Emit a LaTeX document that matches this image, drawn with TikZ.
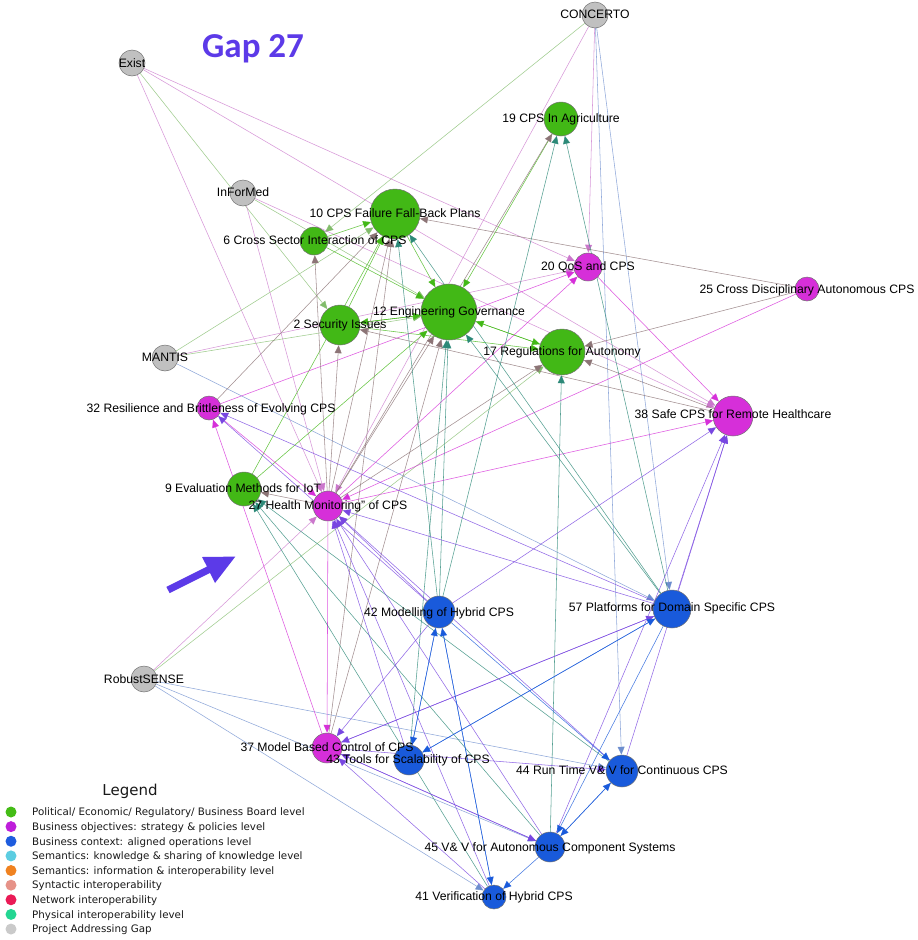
\documentclass[tikz,border=0pt]{standalone}
\usepackage{fontspec}
\setmainfont{Liberation Sans}
\newfontfamily\legfont{DejaVu Sans}
\newfontfamily\titlefont{Carlito}
\usetikzlibrary{arrows.meta}
\pgfdeclarelayer{bglayer}
\pgfdeclarelayer{edgelayer}
\pgfsetlayers{bglayer,edgelayer,main}

% node colours
\definecolor{cgreen}{RGB}{66,184,22}
\definecolor{cmag}{RGB}{214,47,217}
\definecolor{cblue}{RGB}{25,90,219}
\definecolor{cgray}{RGB}{192,192,192}
% edge colours (mix of end colours)
\definecolor{kG}{RGB}{66,184,22}
\definecolor{kM}{RGB}{214,47,217}
\definecolor{kB}{RGB}{25,90,219}
\definecolor{kBR}{RGB}{140,116,118}
\definecolor{kT}{RGB}{44,137,120}
\definecolor{kP}{RGB}{120,70,225}
\definecolor{klg}{RGB}{129,188,106}
\definecolor{klp}{RGB}{203,119,204}
\definecolor{klb}{RGB}{108,141,206}
% title / legend colours
\definecolor{titlec}{RGB}{92,58,232}
\definecolor{lg1}{RGB}{68,188,22}
\definecolor{lg2}{RGB}{190,30,218}
\definecolor{lg3}{RGB}{30,92,222}
\definecolor{lg4}{RGB}{92,205,225}
\definecolor{lg5}{RGB}{240,130,32}
\definecolor{lg6}{RGB}{230,146,136}
\definecolor{lg7}{RGB}{234,26,86}
\definecolor{lg8}{RGB}{36,214,146}
\definecolor{lg9}{RGB}{202,202,202}

\tikzset{
  vtx/.style={circle, draw=black!55, line width=0.5pt, inner sep=0pt, minimum size=#1},
  lbl/.style={anchor=base, inner sep=0pt, font=\fontsize{12.2}{14}\selectfont, text=black},
  edge/.style={line width=0.55pt, -{Triangle[length=8pt,width=7pt]}},
  eG/.style={edge, draw=kG, draw opacity=0.8},
  eM/.style={edge, draw=kM, draw opacity=0.8},
  eB/.style={edge, draw=kB, draw opacity=0.8},
  eBR/.style={edge, draw=kBR, draw opacity=0.8},
  eT/.style={edge, draw=kT, draw opacity=0.8},
  eP/.style={edge, draw=kP, draw opacity=0.8},
  elg/.style={edge, draw=klg, draw opacity=0.75},
  elp/.style={edge, draw=klp, draw opacity=0.75},
  elb/.style={edge, draw=klb, draw opacity=0.75},
  legdot/.style={circle, inner sep=0pt, minimum size=11pt},
  legtxt/.style={anchor=base west, inner sep=0pt, font=\legfont\fontsize{10.3}{12}\selectfont, text=black!90},
}

\begin{document}
\begin{tikzpicture}[x=1pt,y=-1pt]
\useasboundingbox (0,0) rectangle (918,940);
\begin{pgfonlayer}{bglayer}
  \fill[white] (0,0) rectangle (918,940);
\end{pgfonlayer}

% ---- vertices ----
\node[vtx=26pt, fill=cgray] (CON) at (595,15) {};
\node[vtx=26pt, fill=cgray] (EX) at (132,63) {};
\node[vtx=26pt, fill=cgray] (INF) at (243,193) {};
\node[vtx=26pt, fill=cgray] (MAN) at (165,358) {};
\node[vtx=26pt, fill=cgray] (RS) at (144,679) {};
\node[vtx=34pt, fill=cgreen] (n19) at (561,119) {};
\node[vtx=50pt, fill=cgreen] (n10) at (395,214) {};
\node[vtx=28pt, fill=cgreen] (n6) at (314,241) {};
\node[vtx=28pt, fill=cmag] (n20) at (588,267) {};
\node[vtx=24pt, fill=cmag] (n25) at (807,289) {};
\node[vtx=56pt, fill=cgreen] (n12) at (449,312) {};
\node[vtx=40pt, fill=cgreen] (n2) at (340,325) {};
\node[vtx=46pt, fill=cgreen] (n17) at (562,352) {};
\node[vtx=24pt, fill=cmag] (n32) at (209,408) {};
\node[vtx=40pt, fill=cmag] (n38) at (733,416) {};
\node[vtx=34pt, fill=cgreen] (n9) at (244,489) {};
\node[vtx=30pt, fill=cmag] (n27) at (328,506) {};
\node[vtx=32pt, fill=cblue] (n42) at (439,612) {};
\node[vtx=38pt, fill=cblue] (n57) at (672,609) {};
\node[vtx=30pt, fill=cmag] (n37) at (327,748) {};
\node[vtx=30pt, fill=cblue] (n43) at (409,760) {};
\node[vtx=32pt, fill=cblue] (n44) at (622,771) {};
\node[vtx=30pt, fill=cblue] (n45) at (550,847) {};
\node[vtx=24pt, fill=cblue] (n41) at (494,897) {};

% ---- connectors ----
\begin{pgfonlayer}{edgelayer}
\foreach \a/\b/\s in {
  CON/n6/elg, CON/n27/elp, CON/n20/elp, CON/n44/elb, CON/n57/elb,
  EX/n20/elp, EX/n38/elp, EX/n2/elg, EX/n27/elp,
  INF/n38/elp, INF/n12/elg, INF/n27/elp,
  MAN/n10/elg, MAN/n12/elg, MAN/n20/elp, MAN/n57/elb,
  RS/n27/elp, RS/n17/elg, RS/n44/elb, RS/n45/elb, RS/n41/elb,
  n6/n10/eG, n6/n12/eG, n2/n10/eG, n9/n10/eG, n9/n12/eG, n2/n12/eG,
  n12/n2/eG, n12/n17/eG, n17/n12/eG, n2/n17/eG, n10/n12/eG, n19/n12/eG,
  n27/n38/eM, n20/n38/eM, n27/n20/eM, n32/n20/eM, n25/n27/eM,
  n32/n27/eM, n27/n37/eM, n37/n32/eM,
  n27/n6/eBR, n27/n2/eBR, n27/n10/eBR, n27/n12/eBR, n27/n19/eBR,
  n27/n9/eBR, n27/n17/eBR, n37/n10/eBR, n37/n12/eBR, n32/n10/eBR,
  n25/n10/eBR, n25/n17/eBR, n38/n2/eBR, n38/n17/eBR,
  n42/n19/eT, n57/n19/eT, n42/n12/eT, n57/n12/eT, n43/n12/eT,
  n42/n10/eT, n57/n10/eT, n45/n17/eT, n44/n9/eT, n45/n9/eT, n41/n9/eT,
  n42/n38/eP, n44/n38/eP, n45/n38/eP, n57/n38/eP, n57/n32/eP, n42/n32/eP,
  n42/n27/eP, n57/n27/eP, n44/n27/eP, n45/n27/eP, n43/n27/eP, n41/n27/eP,
  n42/n37/eP, n57/n37/eP, n45/n37/eP, n41/n37/eP, n37/n57/eP,
  n37/n44/eP, n37/n45/eP,
  n42/n43/eB, n43/n42/eB, n42/n41/eB, n41/n42/eB, n57/n43/eB, n43/n57/eB,
  n45/n44/eB, n44/n45/eB, n45/n41/eB, n57/n45/eB, n42/n44/eB}
  \draw[\s] (\a) -- (\b);
\end{pgfonlayer}

% ---- vertex labels ----
\node[lbl] at (595,14+4.4) {CONCERTO};
\node[lbl] at (132,63+4.4) {Exist};
\node[lbl] at (243,192+4.4) {InForMed};
\node[lbl] at (165,357+4.4) {MANTIS};
\node[lbl] at (144,679+4.4) {RobustSENSE};
\node[lbl] at (561,118+4.4) {19 CPS In Agriculture};
\node[lbl] at (395,213+4.4) {10 CPS Failure Fall-Back Plans};
\node[lbl] at (315,240+4.4) {6 Cross Sector Interaction of CPS};
\node[lbl] at (588,266+4.4) {20 QoS and CPS};
\node[lbl] at (807,289+4.4) {25 Cross Disciplinary Autonomous CPS};
\node[lbl] at (449,311+4.4) {12 Engineering Governance};
\node[lbl] at (340,324+4.4) {2 Security Issues};
\node[lbl] at (562,351+4.4) {17 Regulations for Autonomy};
\node[lbl] at (211,408+4.4) {32 Resilience and Brittleness of Evolving CPS};
\node[lbl] at (733,414+4.4) {38 Safe CPS for Remote Healthcare};
\node[lbl] at (243,488+4.4) {9 Evaluation Methods for IoT};
\node[lbl] at (328,505+4.4) {27 Health Monitoring” of CPS};
\node[lbl] at (439,612+4.4) {42 Modelling of Hybrid CPS};
\node[lbl] at (672,607+4.4) {57 Platforms for Domain Specific CPS};
\node[lbl] at (327,747+4.4) {37 Model Based Control of CPS};
\node[lbl] at (408,759+4.4) {43 Tools for Scalability of CPS};
\node[lbl] at (622,770+4.4) {44 Run Time V\& V for Continuous CPS};
\node[lbl] at (550,847+4.4) {45 V\& V for Autonomous Component Systems};
\node[lbl] at (494,896+4.4) {41 Verification of Hybrid CPS};

% ---- title and pointer arrow ----
\node[anchor=base west, inner sep=0pt, text=titlec,
      font=\titlefont\bfseries\fontsize{35}{40}\selectfont] (title) at (202,57) {Gap 27};
\fill[titlec] (166.4,586.9) -- (207.0,566.6) -- (202,557) -- (235.3,556.6)
  -- (215,583) -- (210.0,572.9) -- (169.6,593.1) -- cycle;

% ---- legend ----
\node[anchor=base, inner sep=0pt, font=\legfont\fontsize{15}{18}\selectfont, text=black!90]
  (legtitle) at (130,795) {Legend};
\foreach \i/\c/\t in {
  0/lg1/{Political/ Economic/ Regulatory/ Business Board level},
  1/lg2/{Business objectives: strategy \& policies level},
  2/lg3/{Business context: aligned operations level},
  3/lg4/{Semantics: knowledge \& sharing of knowledge level},
  4/lg5/{Semantics: information \& interoperability level},
  5/lg6/{Syntactic interoperability},
  6/lg7/{Network interoperability},
  7/lg8/{Physical interoperability level},
  8/lg9/{Project Addressing Gap}}
{
  \node[legdot, fill=\c] (dot\i) at (11,812+14.63*\i) {};
  \node[legtxt] (txt\i) at (32,812+14.63*\i+3.75) {\t};
}
\end{tikzpicture}
\end{document}
